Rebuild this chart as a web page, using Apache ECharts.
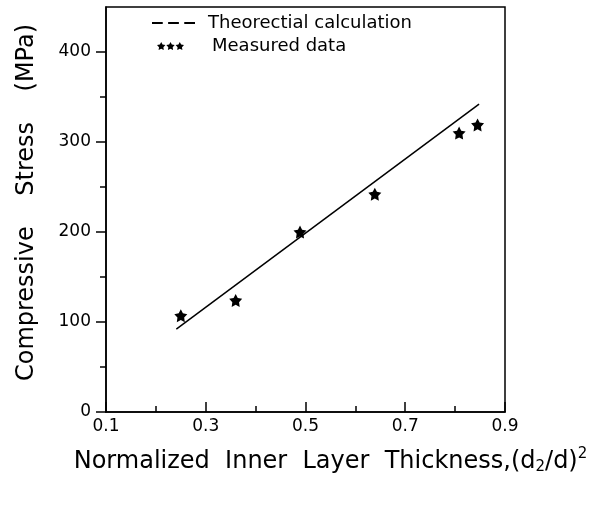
<!DOCTYPE html>
<html>
<head>
<meta charset="utf-8">
<script src="https://cdn.jsdelivr.net/npm/echarts@6/dist/echarts.min.js"></script>
<style>html,body{margin:0;padding:0;background:#fff;}#c{width:609px;height:505px;}</style>
</head>
<body>
<div id="c"></div>
<script>
// ---- data ----
const measuredX = [0.250, 0.360, 0.489, 0.639, 0.808, 0.845];
const measuredY = [107, 124, 200, 242, 310, 319];
const theoryX = [0.241, 0.848];
const theoryY = [92, 342];
const xTickValues = [0.1, 0.2, 0.3, 0.4, 0.5, 0.6, 0.7, 0.8, 0.9];
const xLabelValues = [0.1, 0.3, 0.5, 0.7, 0.9];
const yTickValues = [50, 150, 250, 350];
const yLabelValues = [0, 100, 200, 300, 400];
const seriesNames = ['Theorectial calculation', 'Measured data'];

const FONT = 'DejaVu Sans';
function star(ox) {
  const pts = [];
  for (let k = 0; k < 10; k++) {
    const a = (-90 + 36 * k) * Math.PI / 180;
    const r = k % 2 === 0 ? 5 : 2.6;
    pts.push((ox + 5 + r * Math.cos(a)).toFixed(2) + ',' + (5 + r * Math.sin(a)).toFixed(2));
  }
  return 'M' + pts.join('L') + 'Z';
}
const starSymbol = 'path://' + star(0);
const threeStars = 'path://' + star(0) + star(10.5) + star(21);
const dashes = 'path://M0,0h10v2h-10zM15,0h10v2h-10zM30,0h10v2h-10z';

const chart = echarts.init(document.getElementById('c'), null, {renderer: 'canvas'});
chart.setOption({
  animation: false,
  backgroundColor: '#fff',
  textStyle: {fontFamily: FONT, color: '#000'},
  grid: {left: 106, right: 104, top: 7, bottom: 93, show: true, borderColor: '#000', borderWidth: 1.5, backgroundColor: 'transparent'},
  legend: [
    {
      left: 147, top: 9, itemWidth: 43, itemHeight: 14, itemGap: 0,
      data: [{name: seriesNames[0], icon: dashes}],
      textStyle: {fontFamily: FONT, fontSize: 18, color: '#000', padding: [0, 0, 0, 8]},
      selectedMode: false
    },
    {
      left: 152, top: 32, itemWidth: 27, itemHeight: 12, itemGap: 0,
      data: [{name: seriesNames[1], icon: threeStars}],
      textStyle: {fontFamily: FONT, fontSize: 18, color: '#000', padding: [0, 0, 0, 23]},
      selectedMode: false
    }
  ],
  xAxis: [
    {
      type: 'value', min: 0.1, max: 0.9, position: 'bottom',
      splitLine: {show: false},
      axisLine: {show: true, onZero: false, lineStyle: {color: '#000', width: 1.5}},
      axisTick: {show: true, inside: true, length: 6, customValues: xTickValues, lineStyle: {color: '#000', width: 1.5}},
      axisLabel: {customValues: xLabelValues, formatter: v => v.toFixed(1), fontFamily: FONT, fontSize: 17, color: '#000', margin: 6},
      name: 'Normalized  Inner  Layer  Thickness,(d{sub|2}/d){sup|2}',
      nameLocation: 'middle', nameGap: 35,
      nameTextStyle: {
        fontFamily: FONT, fontSize: 24, color: '#000', padding: [0, 0, 0, 50],
        rich: {
          sub: {fontFamily: FONT, fontSize: 15, color: '#000', padding: [11, 0, 0, 0]},
          sup: {fontFamily: FONT, fontSize: 15, color: '#000', padding: [0, 0, 15, 0]}
        }
      }
    },
    {
      type: 'value', min: 0.1, max: 0.9, position: 'bottom',
      splitLine: {show: false},
      axisLine: {show: false, onZero: false},
      axisTick: {show: true, inside: true, length: 10, customValues: xLabelValues, lineStyle: {color: '#000', width: 1.5}},
      axisLabel: {show: false}
    }
  ],
  yAxis: [
    {
      type: 'value', min: 0, max: 450, position: 'left',
      splitLine: {show: false},
      axisLine: {show: true, onZero: false, lineStyle: {color: '#000', width: 1.5}},
      axisTick: {show: true, inside: false, length: 6, customValues: yTickValues, lineStyle: {color: '#000', width: 1.5}},
      axisLabel: {customValues: yLabelValues, fontFamily: FONT, fontSize: 17, color: '#000', margin: 15},
      name: 'Compressive    Stress    (MPa)',
      nameLocation: 'middle', nameGap: 67,
      nameTextStyle: {fontFamily: FONT, fontSize: 24, color: '#000', padding: [0, 0, 0, 14]}
    },
    {
      type: 'value', min: 0, max: 450, position: 'left',
      splitLine: {show: false},
      axisLine: {show: false, onZero: false},
      axisTick: {show: true, inside: false, length: 10, customValues: yLabelValues, lineStyle: {color: '#000', width: 1.5}},
      axisLabel: {show: false}
    }
  ],
  series: [
    {
      name: seriesNames[0], type: 'line', xAxisIndex: 0, yAxisIndex: 0,
      data: theoryX.map((x, i) => [x, theoryY[i]]),
      showSymbol: false, symbol: 'none',
      lineStyle: {color: '#000', width: 1.5},
      itemStyle: {color: '#000'}
    },
    {
      name: seriesNames[1], type: 'scatter', xAxisIndex: 0, yAxisIndex: 0,
      data: measuredX.map((x, i) => [x, measuredY[i]]),
      symbol: starSymbol, symbolSize: 13,
      itemStyle: {color: '#000', opacity: 1}
    }
  ]
});
</script>
</body>
</html>
